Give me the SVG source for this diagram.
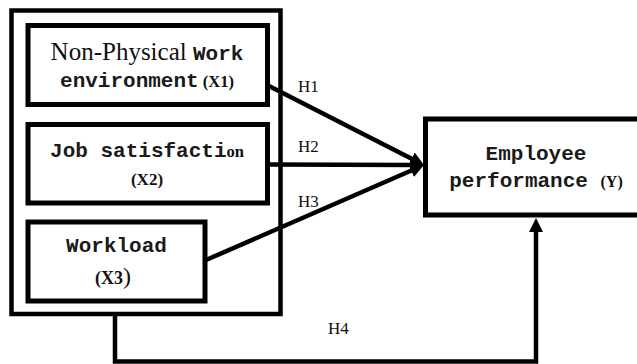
<svg xmlns="http://www.w3.org/2000/svg" width="637" height="364" viewBox="0 0 637 364">
<style>
.box{fill:#fff;stroke:#000;stroke-width:5}
.outer{fill:none;stroke:#000;stroke-width:4.5}
.con{fill:none;stroke:#000;stroke-width:4.5}
.serif{font-family:"Liberation Serif","Times New Roman",serif;fill:#111}
.mono{font-family:"Liberation Mono","Courier New",monospace;font-weight:bold;font-size:21px;fill:#1a1a1a}
.sb{font-family:"Liberation Serif","Times New Roman",serif;font-weight:bold;fill:#111}
.h{font-family:"Liberation Serif","Times New Roman",serif;font-size:17px;fill:#111}
</style>
<defs>
<marker id="ah" markerUnits="userSpaceOnUse" markerWidth="16" markerHeight="16" viewBox="0 -8 16 16" refX="4" refY="0" orient="auto">
<path d="M0,-7 L14,0 L0,7 z" fill="#000"/>
</marker>
</defs>
<g id="group-x">
<rect class="outer" x="11.5" y="10.5" width="269" height="303.5"/>
</g>
<g id="x1">
<rect class="box" x="28" y="25.5" width="239.5" height="79"/>
<text x="147" y="60" text-anchor="middle"><tspan class="serif" font-size="25">Non-Physical </tspan><tspan class="mono">Work</tspan></text>
<text x="147" y="87" text-anchor="middle"><tspan class="mono">environment</tspan><tspan class="sb" font-size="16.5"> (X1)</tspan></text>
</g>
<g id="x2">
<rect class="box" x="28" y="124.5" width="239.5" height="78.5"/>
<text x="147" y="157" text-anchor="middle"><tspan class="mono">Job satisfacti</tspan><tspan class="sb" font-size="16.5">on</tspan></text>
<text x="147" y="185" text-anchor="middle" class="sb" font-size="17">(X2)</text>
</g>
<g id="x3">
<rect class="box" x="28" y="222" width="177" height="79"/>
<text x="116.5" y="252" text-anchor="middle" class="mono">Workload</text>
<text x="113" y="284" text-anchor="middle" class="sb"><tspan font-size="18">(X3</tspan><tspan font-weight="normal" font-size="24">)</tspan></text>
</g>
<g id="y">
<rect class="box" x="425.5" y="119" width="230" height="96"/>
<text x="536" y="160" text-anchor="middle" class="mono">Employee</text>
<text x="536" y="187" text-anchor="middle"><tspan class="mono">performance </tspan><tspan class="sb" font-size="16">(Y)</tspan></text>
</g>
<g id="connectors">
<line class="con" x1="268" y1="85.5" x2="415.1" y2="160.5" marker-end="url(#ah)"/>
<line class="con" x1="268" y1="164.5" x2="414" y2="165" marker-end="url(#ah)"/>
<line class="con" x1="206" y1="260" x2="414.8" y2="169" marker-end="url(#ah)"/>
<polyline class="con" points="115,314 115,361.5 536,361.5 536,228" marker-end="url(#ah)"/>
<text class="h" x="298" y="92">H1</text>
<text class="h" x="298" y="152">H2</text>
<text class="h" x="298" y="207">H3</text>
<text class="h" x="328" y="334" font-size="19">H4</text>
</g>
</svg>
